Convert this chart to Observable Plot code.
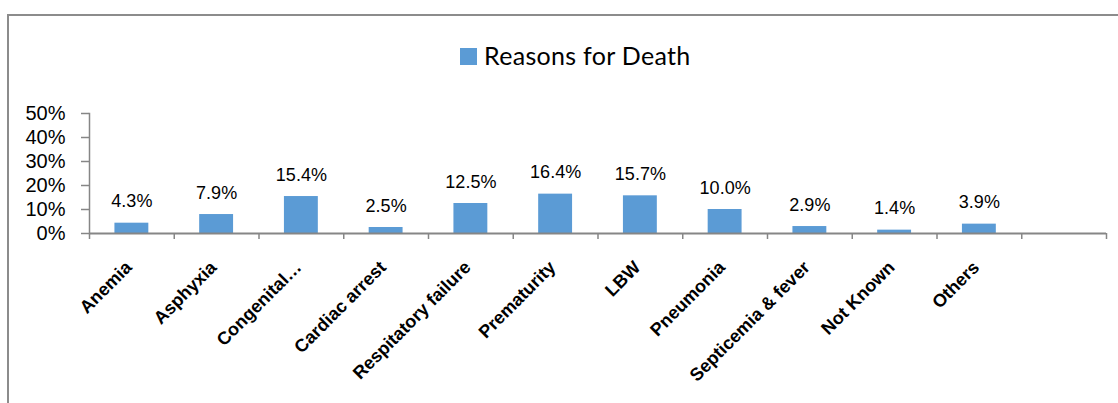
<!DOCTYPE html>
<html>
<head>
<meta charset="utf-8">
<script src="https://cdn.jsdelivr.net/npm/d3@7"></script>
<script src="https://cdn.jsdelivr.net/npm/@observablehq/plot@0.6"></script>
<style>
  html, body { margin: 0; padding: 0; background: #fff; }
  #wrap { position: relative; width: 1118px; height: 403px; overflow: hidden; font-family: "Liberation Sans", Arial, sans-serif; }
  #border { position: absolute; left: 7px; top: 14px; width: 1200px; height: 500px; border: 2px solid #8c8c8c; box-sizing: border-box; }
  #legend { position: absolute; left: 460px; top: 40px; display: flex; align-items: center; font-family: Lato, "Open Sans", sans-serif; font-size: 25px; letter-spacing: 0.3px; color: #000; white-space: nowrap; }
  #legend .sw { width: 17px; height: 17px; background: #5b9bd5; margin-right: 7px; margin-top: 2px; }
  #chart { position: absolute; left: 0; top: 0; }
</style>
</head>
<body>
<div id="wrap">
  <div id="border"></div>
  <div id="legend"><span class="sw"></span><span id="legendText"></span></div>
  <div id="chart"></div>
</div>
<script>
const seriesName = "Reasons for Death";
const categories = ["Anemia", "Asphyxia", "Congenital\u2026", "Cardiac arrest", "Respitatory failure", "Prematurity", "LBW", "Pneumonia", "Septicemia & fever", "Not Known", "Others"];
const values = [0.043, 0.079, 0.154, 0.025, 0.125, 0.164, 0.157, 0.100, 0.029, 0.014, 0.039];
const emptySlot = [""];
const yTicks = [0, 0.1, 0.2, 0.3, 0.4, 0.5];

const data = categories.map((c, i) => ({category: c, value: values[i]}));
const xDomain = [...categories, ...emptySlot];

const W = 1118, H = 403, mL = 89, mR = 12, mT = 113, mB = 170;
const step = (W - mL - mR) / xDomain.length;
const yMax = 0.5;
const tickLen = 6 * yMax / (H - mT - mB); // 6px expressed in y units
const barColor = "#5b9bd5";
const axisColor = "#868686";

document.getElementById("legendText").textContent = seriesName;

const chart = Plot.plot({
  width: W,
  height: H,
  marginLeft: mL,
  marginRight: mR,
  marginTop: mT,
  marginBottom: mB,
  style: {fontFamily: "'Liberation Sans', Arial, sans-serif", background: "transparent", overflow: "visible"},
  x: {domain: xDomain, paddingInner: 0.6, paddingOuter: 0.3, round: false, axis: null},
  y: {domain: [0, yMax], axis: null},
  marks: [
    Plot.barY(data, {x: "category", y: "value", fill: barColor}),
    Plot.axisY({ticks: yTicks, tickFormat: d3.format(".0%"), tickSize: 8, tickPadding: 16, fontSize: 20, stroke: axisColor, strokeWidth: 1.5, fill: "#000", label: null}),
    Plot.frame({anchor: "left", stroke: axisColor, strokeWidth: 1.5}),
    Plot.ruleY([0], {stroke: axisColor, strokeWidth: 2}),
    Plot.ruleX(xDomain, {x: d => d, y1: 0, y2: -tickLen, dx: -step / 2, stroke: axisColor, strokeWidth: 1.5}),
    Plot.ruleX(emptySlot, {x: d => d, y1: 0, y2: -tickLen, dx: step / 2, stroke: axisColor, strokeWidth: 1.5}),
    Plot.text(data, {x: "category", y: 0, text: "category", rotate: -45, textAnchor: "end", lineAnchor: "top", dx: -8, dy: 26, fontSize: 18, fontWeight: "bold", fill: "#000"}),
    Plot.text(data, {x: "category", y: "value", text: d => d3.format(".1%")(d.value), lineAnchor: "bottom", dy: -16, fontSize: 18, fill: "#000"})
  ]
});
document.getElementById("chart").appendChild(chart);
</script>
</body>
</html>
